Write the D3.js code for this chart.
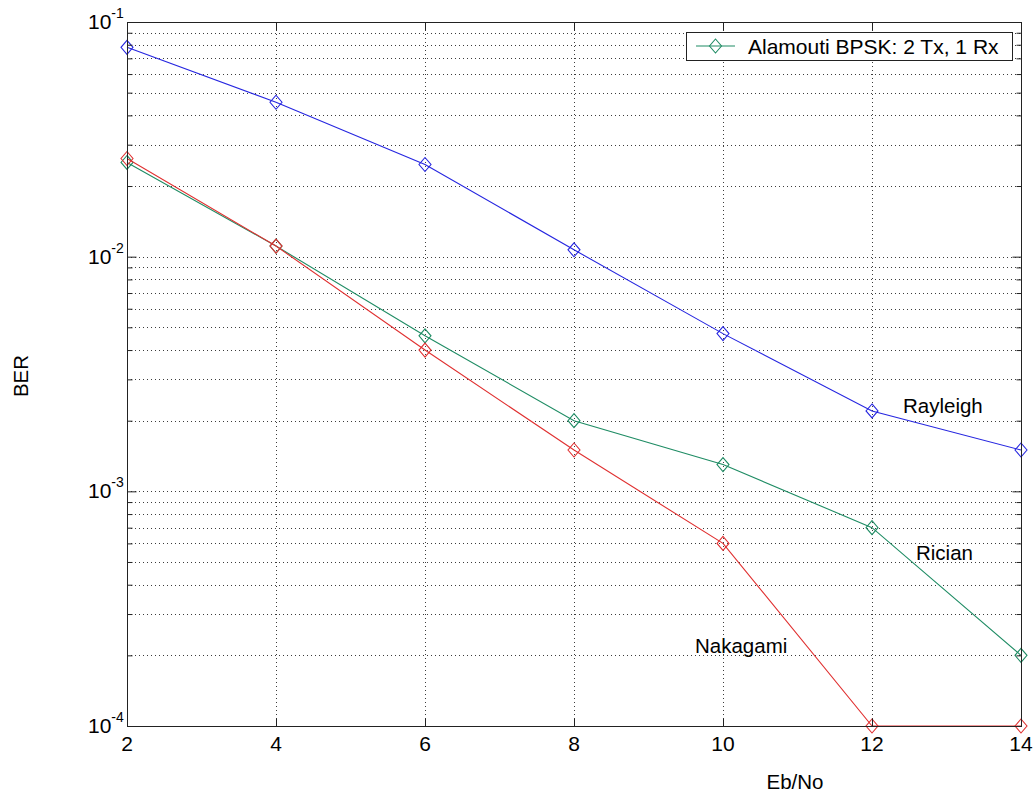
<!DOCTYPE html>
<html>
<head>
<meta charset="utf-8">
<script src="https://cdn.jsdelivr.net/npm/d3@7"></script>
<style>
  body { margin: 0; background: #fff; }
  text { font-family: "Liberation Sans", Arial, sans-serif; fill: #000; }
</style>
</head>
<body>
<svg id="canvas" width="1034" height="796"></svg>
<script>
// Eb/No points and BER per channel
let snr = [2, 4, 6, 8, 10, 12, 14]
let rayleigh = [0.078, 0.0455, 0.0247, 0.0107, 0.0047, 0.0022, 0.0015]
let rician = [0.0252, 0.0111, 0.0046, 0.0020, 0.0013, 0.0007, 0.0002]
let nakagami = [0.0262, 0.0111, 0.0040, 0.0015, 0.0006, 0.0001, 0.0001]

let seriesNames = ['Rayleigh', 'Rician', 'Nakagami']
let seriesColors = ['#2626e0', '#1f8c64', '#e03030']
let seriesValues = [rayleigh, rician, nakagami]

let xTicks = [2, 4, 6, 8, 10, 12, 14]
let decades = [1e-4, 1e-3, 1e-2, 1e-1]
let decadeExp = ['-4', '-3', '-2', '-1']
let legendText = 'Alamouti BPSK: 2 Tx, 1 Rx'

let plotL = 127, plotR = 1021, plotT = 22, plotB = 726

let canvas = d3.select('#canvas')

let x = d3.scaleLinear().domain([2, 14]).range([plotL, plotR])
let y = d3.scaleLog().domain([1e-4, 1e-1]).range([plotB, plotT])

// minor ticks 2..9 in every decade
let minor = []
decades.slice(0, 3).forEach((d) => {
    for (let k = 2; k <= 9; k++) minor.push(d * k)
})

// grid
let grid = canvas.append('g')
    .attr('stroke', '#3c3c3c')
    .attr('stroke-width', 1)
    .attr('stroke-dasharray', '1,3')
grid.selectAll('.gy')
    .data(decades.concat(minor))
    .enter()
    .append('line')
    .attr('x1', plotL).attr('x2', plotR)
    .attr('y1', (d) => Math.round(y(d)) + 0.5)
    .attr('y2', (d) => Math.round(y(d)) + 0.5)
grid.selectAll('.gx')
    .data(xTicks)
    .enter()
    .append('line')
    .attr('y1', plotT).attr('y2', plotB)
    .attr('x1', (d) => Math.round(x(d)) + 0.5)
    .attr('x2', (d) => Math.round(x(d)) + 0.5)

// curves
let line = d3.line()
    .x((d) => x(d[0]))
    .y((d) => y(d[1]))

let diamond = (cx, cy) => `M${cx},${cy - 7}L${cx + 6},${cy}L${cx},${cy + 7}L${cx - 6},${cy}Z`

seriesValues.forEach((vals, i) => {
    let pts = snr.map((s, j) => [s, vals[j]])
    canvas.append('path')
        .attr('d', line(pts))
        .attr('fill', 'none')
        .attr('stroke', seriesColors[i])
        .attr('stroke-width', 1.1)
    canvas.selectAll('.m' + i)
        .data(pts)
        .enter()
        .append('path')
        .attr('d', (d) => diamond(x(d[0]), y(d[1])))
        .attr('fill', 'none')
        .attr('stroke', seriesColors[i])
        .attr('stroke-width', 1.1)
})

// axes on top, ticks pointing inward
let axes = canvas.append('g')
axes.append('g')
    .attr('transform', `translate(0,${plotB + 0.5})`)
    .call(d3.axisBottom(x).tickValues(xTicks).tickSize(-8).tickFormat(''))
axes.append('g')
    .attr('transform', `translate(0,${plotT + 0.5})`)
    .call(d3.axisTop(x).tickValues(xTicks).tickSize(-8).tickFormat(''))
axes.append('g')
    .attr('transform', `translate(${plotL + 0.5},0)`)
    .call(d3.axisLeft(y).tickValues(decades).tickSize(-9).tickFormat(''))
axes.append('g')
    .attr('transform', `translate(${plotL + 0.5},0)`)
    .call(d3.axisLeft(y).tickValues(minor).tickSize(-5).tickFormat(''))
axes.append('g')
    .attr('transform', `translate(${plotR + 0.5},0)`)
    .call(d3.axisRight(y).tickValues(decades).tickSize(-9).tickFormat(''))
axes.append('g')
    .attr('transform', `translate(${plotR + 0.5},0)`)
    .call(d3.axisRight(y).tickValues(minor).tickSize(-5).tickFormat(''))
axes.selectAll('.domain').remove()
axes.selectAll('line').attr('stroke', '#222')

canvas.append('rect')
    .attr('x', plotL + 0.5).attr('y', plotT + 0.5)
    .attr('width', plotR - plotL).attr('height', plotB - plotT)
    .attr('fill', 'none').attr('stroke', '#222')

// tick labels
canvas.selectAll('.xl')
    .data(xTicks)
    .enter()
    .append('text')
    .attr('x', (d) => x(d))
    .attr('y', plotB + 25)
    .attr('text-anchor', 'middle')
    .style('font-size', '21px')
    .text((d) => d)

let yl = canvas.selectAll('.yl')
    .data(decades)
    .enter()
    .append('text')
    .attr('x', 88)
    .attr('y', (d) => y(d) + 7)
    .style('font-size', '21px')
yl.append('tspan').text('10')
yl.append('tspan')
    .attr('dy', -11)
    .style('font-size', '14px')
    .text((d, i) => decadeExp[i])

canvas.append('text')
    .attr('transform', `translate(28,${(plotT + plotB) / 2 + 2}) rotate(-90)`)
    .attr('text-anchor', 'middle')
    .style('font-size', '20.5px')
    .text('BER')

canvas.append('text')
    .attr('x', 795)
    .attr('y', 789)
    .attr('text-anchor', 'middle')
    .style('font-size', '20.5px')
    .text('Eb/No')

// curve names
let nameX = [903, 916, 695]
let nameY = [413, 560, 653]
seriesNames.forEach((n, i) => {
    canvas.append('text')
        .attr('x', nameX[i])
        .attr('y', nameY[i])
        .style('font-size', '20.5px')
        .text(n)
})

// legend
let lg = canvas.append('g')
lg.append('rect')
    .attr('x', 686.5).attr('y', 32.5)
    .attr('width', 326).attr('height', 28)
    .attr('fill', '#fff').attr('stroke', '#222')
lg.append('line')
    .attr('x1', 696).attr('x2', 735)
    .attr('y1', 46).attr('y2', 46)
    .attr('stroke', seriesColors[1]).attr('stroke-width', 1.1)
lg.append('path')
    .attr('d', diamond(715.5, 46))
    .attr('fill', 'none')
    .attr('stroke', seriesColors[1]).attr('stroke-width', 1.1)
lg.append('text')
    .attr('x', 748)
    .attr('y', 54)
    .style('font-size', '21px')
    .text(legendText)
</script>
</body>
</html>
